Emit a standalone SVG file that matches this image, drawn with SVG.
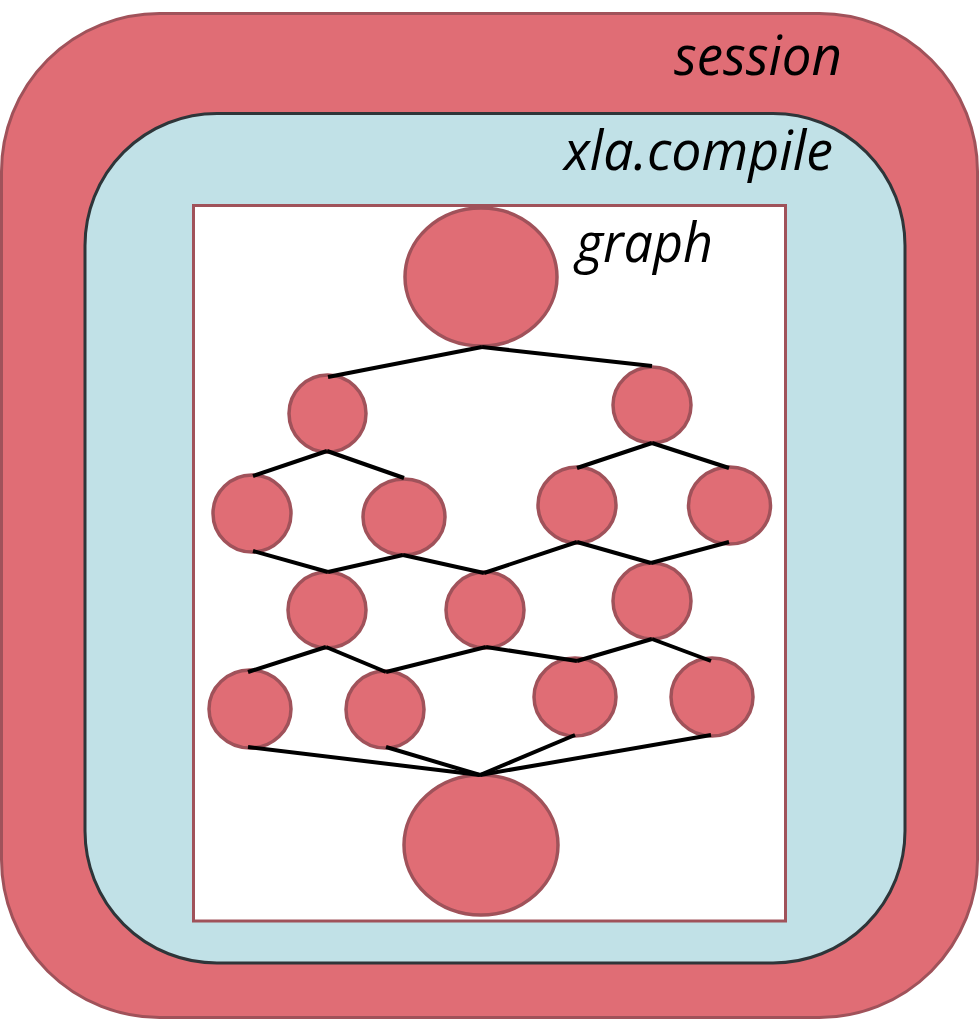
<svg xmlns="http://www.w3.org/2000/svg" width="979" height="1020" viewBox="0 0 979 1020">
<style>
.lbl{font-family:"Open Sans","Noto Sans","DejaVu Sans",sans-serif;font-style:italic;font-size:54px;fill:#000}
.node{fill:#e06d75;stroke:#a0525a;stroke-width:3.5}
.edge{stroke:#000;stroke-width:4;fill:none;stroke-linecap:butt}
</style>
<g id="session">
<rect x="1.5" y="13.5" width="976" height="1004" rx="158" ry="158" fill="#e06d75" stroke="#a0525a" stroke-width="3"/>
<text class="lbl" x="674" y="75" textLength="168" lengthAdjust="spacingAndGlyphs">session</text>
</g>
<g id="xla_compile">
<rect x="85" y="113.5" width="820" height="849.5" rx="132" ry="132" fill="#c1e1e7" stroke="#2e3539" stroke-width="3"/>
<text class="lbl" x="564" y="170" textLength="269" lengthAdjust="spacingAndGlyphs">xla.compile</text>
</g>
<g id="graph">
<rect x="193.5" y="205.5" width="592" height="715.5" fill="#ffffff" stroke="#a0525a" stroke-width="3"/>
<text class="lbl" x="576" y="262" textLength="137" lengthAdjust="spacingAndGlyphs">graph</text>
</g>
<g id="n_top"><ellipse class="node" cx="481" cy="277" rx="76" ry="69"/></g>
<g id="n_l1a"><ellipse class="node" cx="327.5" cy="413.5" rx="38.5" ry="38.5"/></g>
<g id="n_l1b"><ellipse class="node" cx="652" cy="405" rx="39" ry="38"/></g>
<g id="n_l2a"><ellipse class="node" cx="252" cy="513.5" rx="39" ry="38.5"/></g>
<g id="n_l2b"><ellipse class="node" cx="404" cy="517" rx="41" ry="38"/></g>
<g id="n_l2c"><ellipse class="node" cx="577" cy="505" rx="39" ry="38"/></g>
<g id="n_l2d"><ellipse class="node" cx="729.5" cy="505.5" rx="41" ry="38.5"/></g>
<g id="n_l3a"><ellipse class="node" cx="327" cy="610" rx="39" ry="38"/></g>
<g id="n_l3b"><ellipse class="node" cx="485" cy="610" rx="39" ry="38"/></g>
<g id="n_l3c"><ellipse class="node" cx="652" cy="601" rx="39" ry="38"/></g>
<g id="n_l4a"><ellipse class="node" cx="250" cy="709" rx="41" ry="39"/></g>
<g id="n_l4b"><ellipse class="node" cx="385" cy="709.5" rx="39" ry="38.5"/></g>
<g id="n_l4c"><ellipse class="node" cx="575" cy="697" rx="41" ry="39"/></g>
<g id="n_l4d"><ellipse class="node" cx="712" cy="697" rx="41" ry="39"/></g>
<g id="n_bottom"><ellipse class="node" cx="481" cy="845" rx="77" ry="70"/></g>
<g id="connectors">
<line class="edge" x1="482" y1="347" x2="328" y2="377"/>
<line class="edge" x1="482" y1="347" x2="652" y2="366"/>
<line class="edge" x1="327" y1="451" x2="253" y2="476"/>
<line class="edge" x1="327" y1="451" x2="404" y2="478"/>
<line class="edge" x1="652" y1="443" x2="577" y2="468"/>
<line class="edge" x1="652" y1="443" x2="729" y2="468"/>
<line class="edge" x1="253" y1="551" x2="328" y2="572"/>
<line class="edge" x1="403" y1="555" x2="328" y2="572"/>
<line class="edge" x1="403" y1="555" x2="484" y2="573"/>
<line class="edge" x1="577" y1="542" x2="484" y2="573"/>
<line class="edge" x1="577" y1="542" x2="651" y2="563"/>
<line class="edge" x1="729" y1="542" x2="651" y2="563"/>
<line class="edge" x1="326" y1="647" x2="248" y2="672"/>
<line class="edge" x1="326" y1="647" x2="386" y2="672"/>
<line class="edge" x1="486" y1="647" x2="386" y2="672"/>
<line class="edge" x1="486" y1="647" x2="577" y2="661"/>
<line class="edge" x1="652" y1="639" x2="577" y2="661"/>
<line class="edge" x1="652" y1="639" x2="711" y2="661"/>
<line class="edge" x1="248" y1="747" x2="480" y2="775"/>
<line class="edge" x1="386" y1="747" x2="480" y2="775"/>
<line class="edge" x1="575" y1="735" x2="480" y2="775"/>
<line class="edge" x1="711" y1="735" x2="480" y2="775"/>
</g>
</svg>
